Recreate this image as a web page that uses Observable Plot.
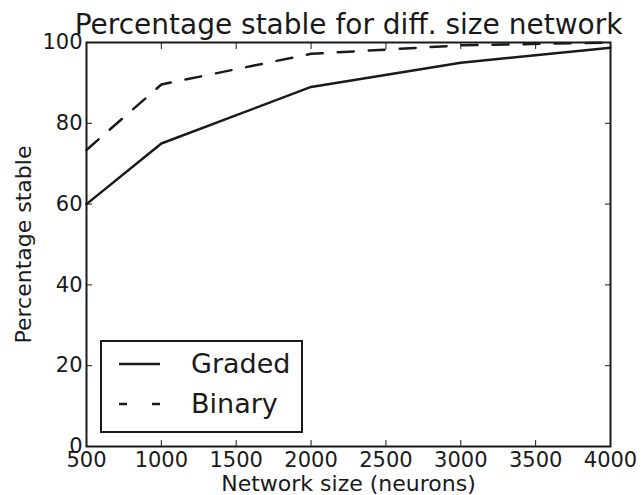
<!DOCTYPE html>
<html>
<head>
<meta charset="utf-8">
<script src="https://cdn.jsdelivr.net/npm/d3@7"></script>
<script src="https://cdn.jsdelivr.net/npm/@observablehq/plot@0.6"></script>
<style>
  html, body { margin: 0; padding: 0; background: #fff; }
  svg { display: block; }
</style>
</head>
<body>
<div id="chart"></div>
<script>
const sizes = [500, 1000, 2000, 3000, 4000];
const graded = [60, 75, 89, 95, 98.7];
const binary = [73.4, 89.6, 97.2, 99.3, 100];
const xTicks = [500, 1000, 1500, 2000, 2500, 3000, 3500, 4000];
const yTicks = [0, 20, 40, 60, 80, 100];
const seriesNames = ["Graded", "Binary"];
const title = "Percentage stable for diff. size network";
const xLabel = "Network size (neurons)";
const yLabel = "Percentage stable";

const gradedData = sizes.map((s, i) => ({size: s, value: graded[i]}));
const binaryData = sizes.map((s, i) => ({size: s, value: binary[i]}));

const ink = "#1a1a1a";
const font = "DejaVu Sans";

const svg = Plot.plot({
  width: 642,
  height: 495,
  marginLeft: 86,
  marginRight: 32,
  marginTop: 42,
  marginBottom: 49,
  style: {fontFamily: font, fontSize: "21px", color: ink, background: "#fff"},
  x: {domain: [500, 4000]},
  y: {domain: [0, 100]},
  marks: [
    Plot.line(gradedData, {x: "size", y: "value", stroke: ink, strokeWidth: 2.5}),
    Plot.line(binaryData, {x: "size", y: "value", stroke: ink, strokeWidth: 2.5, strokeDasharray: "16,15"}),
    Plot.axisX({ticks: xTicks, tickSize: -6, tickPadding: 12, label: null, fontSize: 21, tickFormat: d => String(d)}),
    Plot.axisX({anchor: "top", ticks: xTicks, tickSize: -6, label: null, tickFormat: () => ""}),
    Plot.axisY({ticks: yTicks, tickSize: -6, tickPadding: 10, label: null, fontSize: 21, tickFormat: d => String(d)}),
    Plot.axisY({anchor: "right", ticks: yTicks, tickSize: -6, label: null, tickFormat: () => ""}),
    Plot.frame({stroke: ink, strokeWidth: 2}),
    Plot.text([title], {frameAnchor: "top", lineAnchor: "middle", textAnchor: "middle", dy: -17, fontSize: 28, fill: ink, text: d => d}),
    Plot.text([xLabel], {frameAnchor: "bottom", lineAnchor: "middle", textAnchor: "middle", dy: 37, fontSize: 22, fill: ink, text: d => d}),
    Plot.text([yLabel], {frameAnchor: "left", lineAnchor: "middle", textAnchor: "middle", dx: -63, rotate: -90, fontSize: 22, fill: ink, text: d => d})
  ]
});

// Legend
const sel = d3.select(svg);
const lg = sel.append("g").attr("font-family", font).attr("font-size", 27)
  .attr("fill", ink).attr("text-anchor", "start");
lg.append("rect").attr("x", 101).attr("y", 341).attr("width", 201).attr("height", 91)
  .attr("fill", "#fff").attr("stroke", ink).attr("stroke-width", 2);
const dashes = [null, "8,25"];
seriesNames.forEach((name, i) => {
  const cy = 364 + i * 40;
  const ln = lg.append("line").attr("x1", 119).attr("x2", 160).attr("y1", cy).attr("y2", cy)
    .attr("stroke", ink).attr("stroke-width", 2.5);
  if (dashes[i]) ln.attr("stroke-dasharray", dashes[i]);
  lg.append("text").attr("x", 191).attr("y", cy).attr("dy", "0.35em")
    .attr("text-anchor", "start").text(name);
});

document.getElementById("chart").appendChild(svg);
</script>
</body>
</html>
